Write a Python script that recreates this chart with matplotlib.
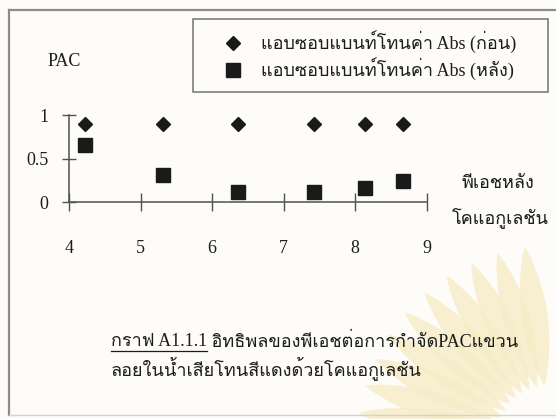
import matplotlib
matplotlib.use("Agg")
import matplotlib.pyplot as plt
from matplotlib.lines import Line2D
from matplotlib.patches import Polygon
import numpy as np

# pH after coagulation and PAC removal (absorbance ratio) before / after
ph_after = [4.22, 5.31, 6.36, 7.42, 8.14, 8.67]
abs_before = [0.90, 0.90, 0.90, 0.90, 0.90, 0.90]
abs_after = [0.66, 0.31, 0.12, 0.11, 0.16, 0.24]

x_ticks = [4, 5, 6, 7, 8, 9]
y_ticks = [0, 0.5, 1]
y_tick_labels = ["0", "0.5", "1"]

label_before = "แอบซอบแบนท์โทนค่า Abs (ก่อน)"
label_after = "แอบซอบแบนท์โทนค่า Abs (หลัง)"
y_title = "PAC"
x_title_1 = "พีเอชหลัง"
x_title_2 = "โคแอกูเลชัน"
caption_tag = "กราฟ A1.1.1"
caption_1 = " อิทธิพลของพีเอชต่อการกำจัดPACแขวน"
caption_2 = "ลอยในน้ำเสียโทนสีแดงด้วยโคแอกูเลชัน"

FONT = ["Liberation Serif", "Loma", "DejaVu Sans"]
FS = 13
INK = "#1c1c1c"
AXC = "#505050"

W, H = 556, 419
fig = plt.figure(figsize=(W / 100, H / 100), dpi=100, facecolor="#fdfcf9")


def fx(x):
    return x / W


def fy(y):
    return 1 - y / H


# faint sunburst emblem in the lower right corner
cx, cy = 552, 440
for ang in np.linspace(98, 172, 10):
    a = np.deg2rad(ang)
    d = np.array([np.cos(a), -np.sin(a)])
    n = np.array([-d[1], d[0]])
    r0, r1, w = 55, 195, 13
    ts = np.linspace(0, 1, 20)
    rs = r0 + (r1 - r0) * ts
    hw = w * np.sin(np.pi * ts) ** 0.8
    side_a = [(cx + d[0] * r + n[0] * h, cy + d[1] * r + n[1] * h)
              for r, h in zip(rs, hw)]
    side_b = [(cx + d[0] * r - n[0] * h, cy + d[1] * r - n[1] * h)
              for r, h in zip(rs[::-1], hw[::-1])]
    fig.patches.append(Polygon([(fx(px), fy(py)) for px, py in side_a + side_b],
                               closed=True, transform=fig.transFigure,
                               facecolor="#f6ecc6", edgecolor="none",
                               alpha=0.8, zorder=0))

# page frame
frame_kw = dict(color="#8c8c8c", lw=1.6, transform=fig.transFigure)
fig.add_artist(Line2D([fx(9), fx(556)], [fy(10), fy(10)], **frame_kw))
fig.add_artist(Line2D([fx(9), fx(9)], [fy(10), fy(415)], **frame_kw))
fig.add_artist(Line2D([fx(9), fx(556)], [fy(415), fy(415)], color="#d2d2d2",
                      lw=1.0, transform=fig.transFigure))

# plotting area: x axis from pH 4 to 9, y axis from 0 to 1
x0, x1 = 69, 426.5
y0, y1 = 202, 115.5
ax = fig.add_axes([fx(x0), fy(y0), (x1 - x0) / W, (y0 - y1) / H])
ax.set_facecolor("none")
ax.set_xlim(4, 9)
ax.set_ylim(0, 1)
for s in ("top", "right"):
    ax.spines[s].set_visible(False)
for s in ("left", "bottom"):
    ax.spines[s].set_color(AXC)
    ax.spines[s].set_linewidth(1.1)

ax.set_xticks(x_ticks)
ax.set_xticklabels([str(v) for v in x_ticks])
ax.set_yticks(y_ticks)
ax.set_yticklabels(y_tick_labels)
ax.tick_params(axis="x", direction="inout", length=13, width=1.0, color=AXC,
               pad=21, labelsize=FS, labelcolor=INK)
ax.tick_params(axis="y", direction="inout", length=10, width=1.0, color=AXC,
               pad=10, labelsize=FS, labelcolor=INK)
for lab in ax.get_xticklabels() + ax.get_yticklabels():
    lab.set_family(FONT)

ax.plot(ph_after, abs_before, linestyle="none", marker="D", markersize=7.6,
        color="#1a1a1a", clip_on=False, label=label_before)
ax.plot(ph_after, abs_after, linestyle="none", marker="s", markersize=10,
        color="#1a1a1a", clip_on=False, label=label_after)

leg = fig.legend(loc="upper left",
                 bbox_to_anchor=(fx(193), fy(88), (548 - 193) / W, (88 - 19) / H),
                 bbox_transform=fig.transFigure, mode="expand",
                 frameon=True, fancybox=False,
                 prop={"family": FONT, "size": FS}, handlelength=3.2,
                 handletextpad=-0.05, borderpad=0.62, labelspacing=0.25,
                 borderaxespad=0, markerscale=0.95)
leg.get_frame().set_edgecolor(AXC)
leg.get_frame().set_linewidth(1.1)
leg.get_frame().set_facecolor("none")
for t in leg.get_texts():
    t.set_color(INK)

fig.text(fx(64.5), fy(62), y_title, ha="center", va="center", fontsize=FS,
         family=FONT, color=INK)
fig.text(fx(498), fy(183), x_title_1, ha="center", va="center", fontsize=FS,
         family=FONT, color=INK)
fig.text(fx(500), fy(218), x_title_2, ha="center", va="center", fontsize=FS,
         family=FONT, color=INK)

# caption with underlined figure number
renderer = fig.canvas.get_renderer()
tag = fig.text(fx(111), fy(342), caption_tag, ha="left", va="center",
               fontsize=FS, family=FONT, color=INK)
bb = tag.get_window_extent(renderer)
fig.add_artist(Line2D([bb.x0 / W, bb.x1 / W], [fy(350.5), fy(350.5)],
                      color=INK, lw=0.9, transform=fig.transFigure))
fig.text(bb.x1 / W, fy(342), caption_1, ha="left", va="center", fontsize=FS,
         family=FONT, color=INK)
fig.text(fx(111), fy(368), caption_2, ha="left", va="center", fontsize=FS,
         family=FONT, color=INK)

fig.savefig("out.png", dpi=100, facecolor=fig.get_facecolor())
